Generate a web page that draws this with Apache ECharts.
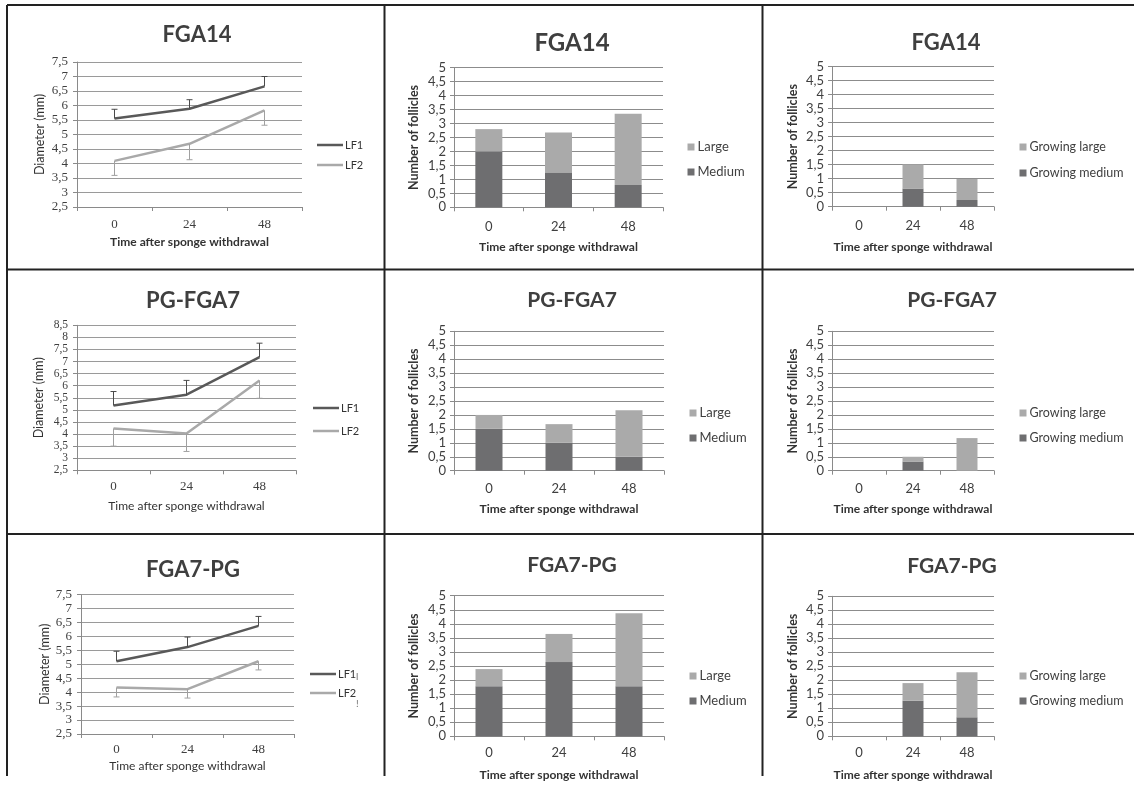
<!DOCTYPE html>
<html>
<head>
<meta charset="utf-8">
<script src="https://cdn.jsdelivr.net/npm/echarts@6/dist/echarts.min.js"></script>
<style>
html,body{margin:0;padding:0;background:#fff;}
#chart{width:1134px;height:798px;}
</style>
</head>
<body>
<div id="chart"></div>
<script>
// ---------- DATA ----------
const categories = ['0', '24', '48'];
const xAxisTitle = 'Time after sponge withdrawal';
const lineYAxisTitle = 'Diameter (mm)';
const barYAxisTitle = 'Number of follicles';
const groupTitles = ['FGA14', 'PG-FGA7', 'FGA7-PG'];

// Line panels: mean diameter and error-bar end (LF1 upper, LF2 lower)
const lf1_FGA14 = [5.55, 5.89, 6.66];
const lf1Err_FGA14 = [5.87, 6.20, 7.00];
const lf2_FGA14 = [4.09, 4.68, 5.83];
const lf2Err_FGA14 = [3.59, 4.13, 5.32];

const lf1_PGFGA7 = [5.18, 5.63, 7.18];
const lf1Err_PGFGA7 = [5.76, 6.22, 7.76];
const lf2_PGFGA7 = [4.23, 4.02, 6.22];
const lf2Err_PGFGA7 = [3.50, 3.28, 5.48];

const lf1_FGA7PG = [5.11, 5.62, 6.38];
const lf1Err_FGA7PG = [5.47, 5.98, 6.72];
const lf2_FGA7PG = [4.17, 4.11, 5.11];
const lf2Err_FGA7PG = [3.83, 3.79, 4.80];

// Line panel y ranges
const lineYMin = [2.5, 2.5, 2.5];
const lineYMax = [7.5, 8.5, 7.5];

// Stacked bars: follicle counts
const medium_FGA14 = [2.00, 1.25, 0.80];
const large_FGA14 = [0.80, 1.43, 2.55];
const medium_PGFGA7 = [1.50, 1.00, 0.50];
const large_PGFGA7 = [0.50, 0.67, 1.67];
const medium_FGA7PG = [1.78, 2.64, 1.78];
const large_FGA7PG = [0.61, 1.00, 2.60];

const growMedium_FGA14 = [0, 0.65, 0.24];
const growLarge_FGA14 = [0, 0.86, 0.75];
const growMedium_PGFGA7 = [0, 0.33, 0];
const growLarge_PGFGA7 = [0, 0.17, 1.17];
const growMedium_FGA7PG = [0, 1.27, 0.68];
const growLarge_FGA7PG = [0, 0.63, 1.61];

// ---------- STYLE / LAYOUT ----------
const SANS = 'Lato, "Open Sans", "DejaVu Sans", sans-serif';
const SERIF = '"Liberation Serif", "DejaVu Serif", serif';
const C_DARK = '#595959';
const C_LIGHT = '#a9a9a9';
const C_MED = '#6e6e70';
const C_LARGE = '#aaaaaa';
const C_TEXT = '#3f3f3f';
const C_GRID = '#8c8c8c';

const lineData = [
  {lf1: lf1_FGA14, e1: lf1Err_FGA14, lf2: lf2_FGA14, e2: lf2Err_FGA14},
  {lf1: lf1_PGFGA7, e1: lf1Err_PGFGA7, lf2: lf2_PGFGA7, e2: lf2Err_PGFGA7},
  {lf1: lf1_FGA7PG, e1: lf1Err_FGA7PG, lf2: lf2_FGA7PG, e2: lf2Err_FGA7PG}
];
const barData = [
  {m: medium_FGA14, l: large_FGA14},
  {m: medium_PGFGA7, l: large_PGFGA7},
  {m: medium_FGA7PG, l: large_FGA7PG}
];
const growData = [
  {m: growMedium_FGA14, l: growLarge_FGA14},
  {m: growMedium_PGFGA7, l: growLarge_PGFGA7},
  {m: growMedium_FGA7PG, l: growLarge_FGA7PG}
];

// layout per panel (row-major): grid box, title centre & size, name gaps, label margin, legend
const L = [
  {g:[77,62,225,145], t:[197,35,22], xg:29, yg:31, lm:11, lg:[317,139.5,9], xb:true},
  {g:[454,67.7,209,139.6], t:[572,43,24], xg:34, yg:34, lm:13, lg:[687.5,140.5,12]},
  {g:[832,66.7,162,140], t:[946,43,22], xg:34, yg:33, lm:13, lg:[1019.5,140.5,13]},
  {g:[77,325.3,219,145], t:[193,301,22], xg:30, yg:32, lm:10, lg:[313,402.5,12]},
  {g:[454,331.3,210,139.4], t:[572,300,21], xg:32, yg:34, lm:12, lg:[689.5,406.5,12]},
  {g:[832,331.3,162,139.4], t:[952,300,21], xg:32, yg:33, lm:12, lg:[1019.5,406.5,12]},
  {g:[81,594.7,213,139.3], t:[193,570,22], xg:26, yg:30, lm:9.5, lg:[310,668.5,8]},
  {g:[454,595.7,210,140.6], t:[572,565,21], xg:33, yg:34, lm:10.5, lg:[689.5,669.5,12]},
  {g:[832,596.3,162,140], t:[952,566,21], xg:33, yg:33, lm:10.5, lg:[1019.5,669.5,12]}
];

function errRender(params, api) {
  const x = api.value(0);
  const p0 = api.coord([x, api.value(1)]);
  const p1 = api.coord([x, api.value(2)]);
  const w = 3;
  const color = api.visual('color');
  return {
    type: 'group',
    children: [
      {type: 'line', shape: {x1: p0[0], y1: p0[1], x2: p1[0], y2: p1[1]}, style: {stroke: color, lineWidth: 1}},
      {type: 'line', shape: {x1: p1[0] - w, y1: p1[1], x2: p1[0] + w, y2: p1[1]}, style: {stroke: color, lineWidth: 1}}
    ]
  };
}

const grids = [], xAxes = [], yAxes = [], titles = [], legends = [], series = [];

for (let r = 0; r < 3; r++) {
  for (let c = 0; c < 3; c++) {
    const i = r * 3 + c;
    const lay = L[i];
    const isLine = c === 0;
    grids.push({left: lay.g[0], top: lay.g[1], width: lay.g[2], height: lay.g[3], containLabel: false});
    titles.push({
      text: groupTitles[r], left: lay.t[0], top: lay.t[1] - lay.t[2] * 0.5, textAlign: 'center', padding: 0,
      textStyle: {fontFamily: SANS, fontWeight: 'bold', fontSize: lay.t[2], color: C_TEXT}
    });
    xAxes.push({
      type: 'category', gridIndex: i, data: categories, boundaryGap: true,
      name: xAxisTitle, nameLocation: 'middle', nameGap: lay.xg,
      nameTextStyle: {fontFamily: SANS, fontSize: 12, color: '#333',
        fontWeight: (isLine && !lay.xb) ? 'normal' : 'bold'},
      axisLine: {show: true, lineStyle: {color: '#8a8a8a', width: 1}},
      axisTick: {show: true, length: 4, alignWithLabel: false, lineStyle: {color: '#8a8a8a'}},
      axisLabel: {margin: lay.lm, fontFamily: isLine ? SERIF : SANS, fontSize: 13, color: C_TEXT},
      splitLine: {show: false}
    });
    yAxes.push({
      type: 'value', gridIndex: i,
      min: isLine ? lineYMin[r] : 0, max: isLine ? lineYMax[r] : 5, interval: 0.5,
      name: isLine ? lineYAxisTitle : barYAxisTitle, nameLocation: 'middle', nameRotate: 90, nameGap: lay.yg,
      nameTextStyle: {fontFamily: SANS, fontSize: 12.5, color: '#333', fontWeight: isLine ? 'normal' : 'bold'},
      axisLine: {show: true, lineStyle: {color: '#8a8a8a', width: 1}},
      axisTick: {show: true, length: 4, lineStyle: {color: '#8a8a8a'}},
      axisLabel: {margin: isLine ? 9 : 8, fontFamily: isLine ? SERIF : SANS,
        fontSize: isLine ? (r === 1 ? 11.5 : 13) : 13,
        color: C_TEXT, hideOverlap: false,
        showMinLabel: true, showMaxLabel: true,
        formatter: v => String(v).replace('.', ',')},
      splitLine: {show: true, lineStyle: {color: isLine ? '#9a9a9a' : C_GRID, width: 1}}
    });
    if (isLine) {
      const d = lineData[r];
      series.push({type: 'line', name: 'LF1', xAxisIndex: i, yAxisIndex: i, data: d.lf1, symbol: 'none',
        lineStyle: {color: C_DARK, width: 2.5}, itemStyle: {color: C_DARK}, z: 3, silent: true});
      series.push({type: 'line', name: 'LF2', xAxisIndex: i, yAxisIndex: i, data: d.lf2, symbol: 'none',
        lineStyle: {color: C_LIGHT, width: 2.5}, itemStyle: {color: C_LIGHT}, z: 3, silent: true});
      series.push({type: 'custom', name: 'LF1 error', xAxisIndex: i, yAxisIndex: i, renderItem: errRender,
        itemStyle: {color: '#4a4a4a'}, encode: {x: 0, y: [1, 2]}, z: 4, silent: true,
        data: categories.map((cat, k) => [k, d.lf1[k], d.e1[k]])});
      series.push({type: 'custom', name: 'LF2 error', xAxisIndex: i, yAxisIndex: i, renderItem: errRender,
        itemStyle: {color: '#a0a0a0'}, encode: {x: 0, y: [1, 2]}, z: 4, silent: true,
        data: categories.map((cat, k) => [k, d.lf2[k], d.e2[k]])});
      legends.push({
        left: lay.lg[0], top: lay.lg[1], orient: 'vertical', itemGap: lay.lg[2], padding: 0,
        icon: 'rect', itemWidth: 26, itemHeight: 2.5, selectedMode: false,
        data: ['LF1', 'LF2'],
        textStyle: {fontFamily: SANS, fontSize: 11, color: '#333', padding: [0, 0, 0, -3]}
      });
    } else {
      const grow = c === 2;
      const d = grow ? growData[r] : barData[r];
      const mName = grow ? 'Growing medium' : 'Medium';
      const lName = grow ? 'Growing large' : 'Large';
      const bw = grow ? 21 : 27;
      series.push({type: 'bar', name: mName, xAxisIndex: i, yAxisIndex: i, stack: 's' + i, data: d.m,
        barWidth: bw, itemStyle: {color: C_MED}, silent: true});
      series.push({type: 'bar', name: lName, xAxisIndex: i, yAxisIndex: i, stack: 's' + i, data: d.l,
        barWidth: bw, itemStyle: {color: C_LARGE}, silent: true});
      legends.push({
        left: lay.lg[0], top: lay.lg[1], orient: 'vertical', itemGap: lay.lg[2], padding: 0,
        icon: 'rect', itemWidth: 7, itemHeight: 7, selectedMode: false,
        data: [lName, mName],
        textStyle: {fontFamily: SANS, fontSize: grow ? 12.5 : 13, color: C_TEXT, padding: [0, 0, 0, -2]}
      });
    }
  }
}

// table frame
const frameStyle = {stroke: '#222', lineWidth: 2};
const frame = [
  [7, 5, 1134, 5], [7, 5, 7, 776], [384.5, 5, 384.5, 776], [762.5, 5, 762.5, 776],
  [7, 269.5, 1134, 269.5], [7, 534, 1134, 534]
].map(p => ({type: 'line', silent: true, shape: {x1: p[0], y1: p[1], x2: p[2], y2: p[3]}, style: frameStyle}));
// clipped characters at the right edge of the last line panel
frame.push({type: 'text', silent: true, x: 356, y: 672, style: {text: 'l', fontSize: 10, fontFamily: SANS, fill: '#777'}});
frame.push({type: 'text', silent: true, x: 356, y: 699, style: {text: '!', fontSize: 10, fontFamily: SANS, fill: '#777'}});

const chart = echarts.init(document.getElementById('chart'), null, {renderer: 'canvas'});
chart.setOption({
  backgroundColor: '#ffffff',
  animation: false,
  title: titles,
  legend: legends,
  grid: grids,
  xAxis: xAxes,
  yAxis: yAxes,
  series: series,
  graphic: frame
});
</script>
</body>
</html>
